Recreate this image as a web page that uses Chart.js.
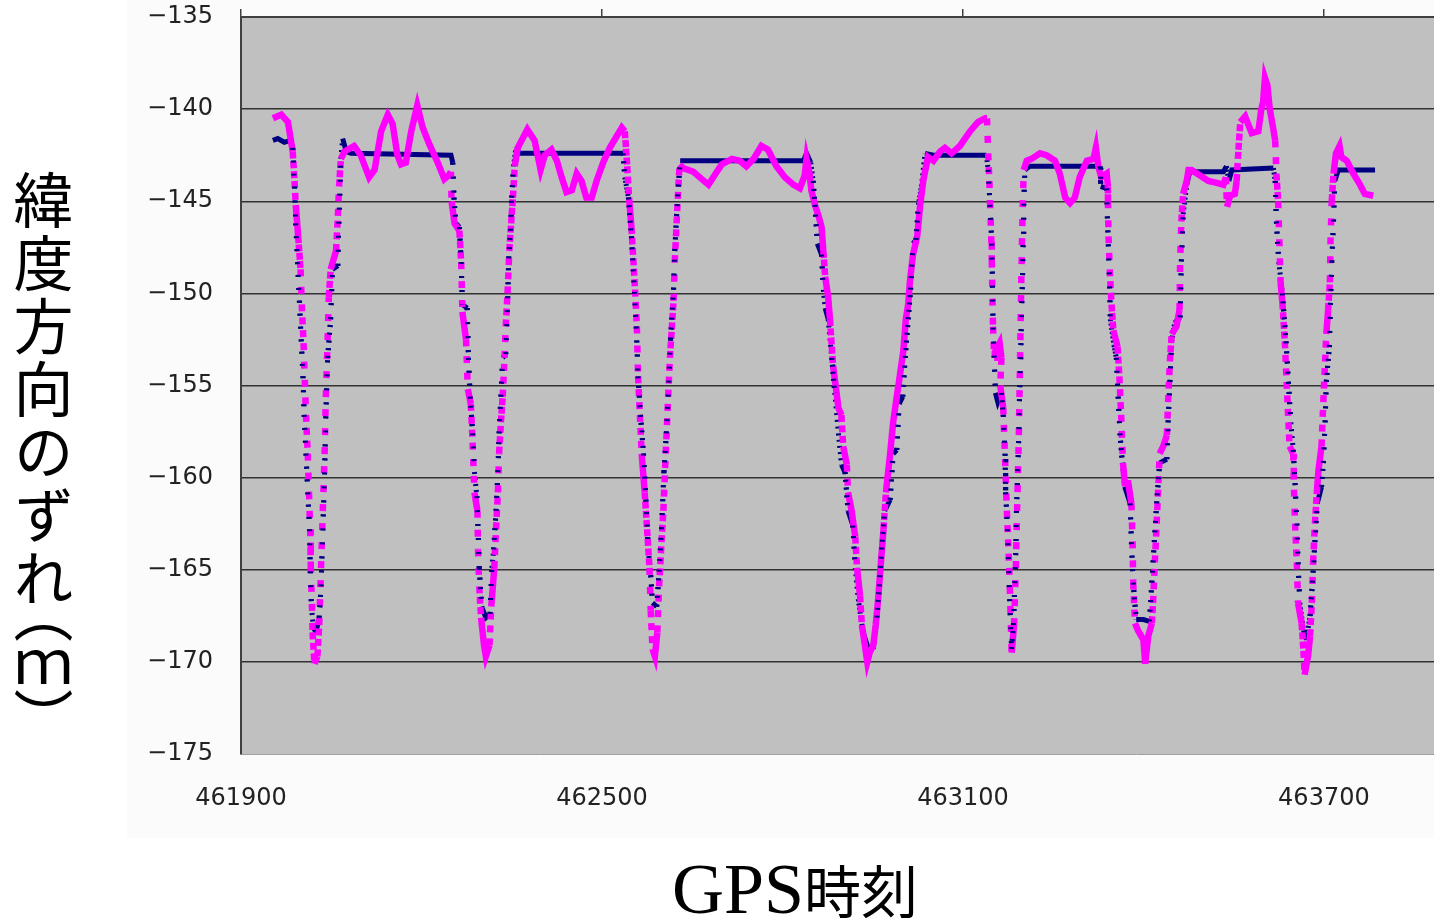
<!DOCTYPE html>
<html>
<head>
<meta charset="utf-8">
<script src="https://cdn.jsdelivr.net/npm/chart.js@4.4.1/dist/chart.umd.min.js"></script>
<style>
body { margin:0; background:#fff; }
#wrap { position:relative; width:1434px; height:918px; overflow:hidden; }
#panel { position:absolute; left:127px; top:0; width:1307px; height:838px; background:#fbfbfb; }
#c { position:absolute; left:0; top:0; }
#ytitle { position:absolute; left:13px; top:170px; writing-mode:vertical-rl; text-orientation:upright;
  font-family:"Noto Sans CJK JP"; font-size:60px; line-height:1; letter-spacing:3px; color:#000; }
#ytitle .unit { font-feature-settings:"vpal" 1; letter-spacing:0; }
#xtitle { position:absolute; left:672px; top:852px; white-space:nowrap; line-height:72px; color:#000; }
#xtitle .lat { font-family:"Liberation Serif"; font-size:72px; }
#xtitle .cjk { font-family:"Noto Sans CJK JP"; font-size:57px; }
</style>
</head>
<body>
<div id="wrap">
  <div id="panel"></div>
  <canvas id="c" width="1434" height="918"></canvas>
  <div id="ytitle">緯度方向のずれ<span class="unit">（ｍ）</span></div>
  <div id="xtitle"><span class="lat">GPS</span><span class="cjk">時刻</span></div>
</div>
<script>
// axis ticks
const xTicks = [461900, 462500, 463100, 463700];
const yTicks = [-175, -170, -165, -160, -155, -150, -145, -140, -135];

// navy series
const navyTime = [461953,461961,461972,461982,461986,461989,461991,461994,461997,462000,462003,462005,462008,462011,462014,462015,462017,462021,462026,462030,
  462033,462036,462039,462041,462044,462049,462052,462061,462062,462064,462066,462069,462075,462083,462249,462252,462254,462257,462263,462266,
  462268,462276,462278,462281,462285,462288,462292,462294,462296,462300,462307,462314,462317,462320,462324,462327,462329,462332,462335,462340,
  462343,462345,462348,462350,462353,462357,462363,462535,462538,462544,462549,462553,462557,462560,462564,462569,462573,462577,462581,462584,
  462591,462595,462599,462603,462607,462610,462614,462619,462621,462624,462627,462630,462835,462840,462847,462851,462854,462858,462865,462868,
  462871,462876,462882,462887,462893,462898,462904,462909,462917,462921,462926,462934,462943,462951,462957,462961,462965,462970,462979,462984,
  462990,462994,463000,463004,463009,463013,463017,463022,463026,463031,463037,463051,463139,463142,463145,463148,463149,463150,463152,463154,
  463158,463164,463167,463170,463171,463174,463176,463178,463181,463184,463186,463188,463189,463191,463193,463194,463196,463197,463199,463200,
  463201,463203,463211,463328,463329,463339,463340,463342,463344,463345,463351,463355,463358,463361,463365,463369,463378,463380,463383,463388,
  463400,463410,463414,463418,463422,463427,463439,463441,463444,463447,463452,463461,463463,463466,463472,463477,463533,463538,463542,463547,
  463616,463619,463621,463625,463631,463637,463641,463645,463649,463652,463655,463657,463660,463666,463671,463677,463681,463685,463689,463696,
  463699,463702,463704,463709,463711,463713,463716,463718,463724,463785];
const navyLat = [-141.7,-141.6,-141.8,-141.7,-142.1,-144.2,-146.2,-148.3,-150.4,-152.5,-154.5,-156.6,-158.7,-160.8,-162.8,-164.9,-167.0,-168.4,-168.2,-167.6,
  -165.9,-162.8,-159.7,-156.6,-153.5,-151.4,-148.7,-148.5,-146.9,-144.8,-142.7,-141.6,-142.3,-142.4,-142.5,-142.9,-144.8,-146.2,-146.4,-148.3,
  -150.6,-150.8,-153.5,-155.6,-157.6,-159.7,-161.0,-162.8,-164.9,-167.0,-167.6,-167.4,-164.9,-163.9,-161.8,-159.7,-157.6,-155.6,-153.5,-153.3,
  -150.6,-148.1,-146.6,-144.8,-143.1,-142.1,-142.4,-142.4,-143.7,-144.8,-146.9,-149.3,-151.8,-154.5,-156.6,-158.7,-161.2,-163.9,-165.3,-166.8,
  -167.0,-165.1,-162.8,-159.7,-157.6,-155.6,-152.5,-149.8,-147.7,-145.8,-144.2,-142.8,-142.8,-142.4,-142.9,-143.9,-145.2,-147.3,-147.9,-149.8,
  -150.8,-151.4,-153.5,-155.4,-157.6,-159.3,-159.7,-161.8,-162.6,-164.9,-166.6,-168.4,-169.3,-169.3,-167.6,-165.9,-163.9,-161.8,-161.2,-158.7,
  -158.5,-156.0,-155.6,-153.5,-151.4,-149.8,-147.3,-147.1,-145.2,-144.2,-142.4,-142.5,-142.5,-143.3,-145.2,-147.3,-149.3,-151.8,-153.5,-155.4,
  -155.9,-155.4,-156.6,-158.7,-160.8,-162.8,-164.9,-167.0,-169.3,-168.0,-165.9,-163.9,-161.8,-159.7,-157.6,-155.6,-153.5,-151.4,-149.3,-147.3,
  -145.2,-143.3,-143.1,-143.1,-144.2,-144.3,-145.8,-147.7,-149.8,-151.4,-152.8,-153.5,-155.6,-157.6,-159.2,-160.5,-161.4,-163.5,-165.7,-167.7,
  -167.7,-167.8,-165.7,-163.5,-161.4,-159.2,-159.0,-157.0,-154.8,-152.6,-151.6,-151.3,-148.3,-145.7,-144.1,-143.4,-143.4,-143.1,-143.9,-143.3,
  -143.2,-143.9,-146.1,-148.3,-150.0,-152.6,-154.8,-157.0,-158.5,-160.3,-162.5,-164.6,-166.8,-168.3,-168.8,-167.5,-165.7,-163.5,-161.4,-160.5,
  -159.2,-157.0,-154.8,-152.9,-150.5,-148.3,-146.1,-143.9,-143.3,-143.3];

// magenta series
const pinkTime = [461953,461967,461978,461982,461986,461989,461991,461995,461999,462001,462004,462006,462008,462011,462013,462015,462016,462018,462019,462022,
  462027,462030,462033,462036,462039,462041,462044,462046,462049,462058,462061,462063,462066,462072,462088,462099,462113,462122,462133,462144,
  462152,462160,462166,462174,462183,462193,462202,462213,462227,462238,462245,462249,462250,462255,462263,462266,462268,462274,462277,462282,
  462285,462288,462293,462294,462296,462299,462304,462307,462313,462316,462321,462324,462327,462329,462332,462335,462338,462340,462343,462346,
  462349,462352,462355,462360,462376,462388,462398,462405,462416,462425,462433,462441,462450,462458,462466,462474,462483,462491,462502,462513,
  462524,462533,462538,462542,462545,462549,462552,462555,462558,462560,462563,462566,462571,462575,462579,462581,462584,462588,462592,462595,
  462599,462602,462606,462610,462613,462619,462621,462624,462627,462629,462635,462652,462666,462677,462685,462699,462716,462729,462740,462752,
  462765,462776,462790,462804,462818,462829,462837,462840,462845,462848,462854,462860,462865,462868,462871,462876,462879,462882,462884,462890,
  462893,462898,462901,462907,462909,462915,462921,462924,462929,462932,462937,462941,462945,462951,462955,462959,462963,462968,462972,462979,
  462984,462990,462995,463001,463005,463009,463012,463017,463024,463029,463034,463040,463042,463051,463062,463070,463081,463095,463112,463125,
  463137,463140,463142,463144,463145,463147,463148,463149,463150,463152,463153,463161,463164,463162,463167,463173,463177,463181,463185,463188,
  463190,463193,463195,463197,463199,463201,463206,463214,463228,463239,463253,463261,463270,463278,463286,463294,463306,463317,463321,463325,
  463330,463339,463341,463341,463342,463344,463347,463350,463357,463360,463363,463366,463369,463375,463380,463382,463383,463386,463391,463400,
  463403,463408,463414,463416,463419,463422,463425,463427,463433,463439,463441,463444,463447,463455,463460,463461,463463,463466,463472,463475,
  463480,463494,463508,463522,463533,463537,463539,463544,463552,463555,463557,463559,463561,463569,463580,463591,463596,463599,463602,463606,
  463610,463615,463619,463621,463624,463626,463628,463631,463635,463638,463641,463643,463649,463650,463652,463655,463657,463663,463666,463668,
  463674,463677,463680,463682,463685,463688,463691,463696,463699,463702,463704,463707,463710,463711,463713,463716,463720,463726,463729,463738,
  463749,463760,463768,463782];
const pinkLat = [-140.5,-140.3,-140.7,-141.5,-142.3,-143.9,-145.2,-146.9,-148.7,-150.6,-152.7,-154.7,-156.6,-158.7,-160.8,-162.8,-164.9,-167.0,-168.4,-170.1,
  -169.7,-168.0,-164.9,-161.8,-158.7,-155.6,-152.5,-150.2,-148.7,-147.7,-145.8,-144.2,-142.7,-142.3,-142.0,-142.5,-143.7,-143.3,-141.2,-140.3,
  -140.8,-142.5,-143.0,-142.9,-141.2,-139.8,-141.0,-141.9,-142.9,-143.8,-143.6,-143.4,-145.0,-146.2,-146.6,-148.3,-151.0,-152.5,-155.2,-156.0,
  -158.1,-160.8,-161.8,-163.9,-165.9,-167.6,-169.1,-169.7,-169.1,-167.0,-164.9,-162.8,-160.8,-158.7,-157.0,-155.6,-153.5,-151.8,-150.0,-147.7,
  -146.2,-144.8,-143.1,-142.1,-141.1,-141.7,-143.3,-142.5,-142.2,-142.8,-143.7,-144.5,-144.4,-143.5,-143.9,-144.8,-144.8,-143.9,-142.9,-142.1,
  -141.5,-141.0,-141.2,-143.1,-144.8,-146.4,-148.1,-149.8,-151.8,-154.5,-156.6,-158.7,-160.8,-162.8,-164.9,-167.2,-169.3,-169.7,-168.4,-165.9,
  -163.5,-161.8,-158.7,-155.6,-153.5,-150.4,-148.3,-146.2,-144.2,-143.0,-143.2,-143.4,-143.8,-144.1,-143.7,-143.0,-142.7,-142.8,-143.1,-142.7,
  -142.0,-142.2,-143.1,-143.7,-144.1,-144.3,-143.6,-142.7,-143.5,-144.4,-145.2,-145.8,-146.4,-147.7,-149.1,-150.2,-151.4,-152.9,-153.9,-155.4,
  -156.2,-156.6,-158.3,-159.3,-160.8,-161.8,-163.2,-164.9,-166.4,-168.0,-169.1,-170.0,-169.5,-169.1,-168.0,-166.6,-164.9,-162.8,-160.8,-158.7,
  -157.0,-155.6,-154.5,-153.1,-151.4,-150.6,-149.3,-147.9,-146.9,-145.2,-143.9,-142.9,-142.6,-142.8,-142.3,-142.1,-142.4,-142.0,-141.2,-140.7,
  -140.5,-140.5,-142.4,-143.9,-145.0,-146.9,-148.3,-150.2,-151.8,-153.5,-153.2,-152.7,-153.5,-155.0,-156.2,-161.8,-164.9,-169.5,-168.0,-164.9,
  -161.8,-157.6,-153.5,-149.3,-145.8,-143.3,-142.8,-142.7,-142.4,-142.5,-142.8,-143.5,-144.8,-145.1,-144.8,-143.7,-142.8,-142.7,-142.1,-143.1,
  -143.7,-143.5,-144.2,-145.0,-146.9,-148.7,-150.6,-152.0,-152.9,-154.5,-156.6,-159.2,-160.3,-160.3,-161.4,-163.5,-165.7,-167.9,-168.3,-168.8,
  -170.1,-168.6,-167.9,-166.8,-164.6,-162.5,-160.3,-158.7,-158.3,-157.7,-155.9,-153.7,-152.2,-151.8,-150.9,-148.3,-146.1,-144.6,-143.9,-143.3,
  -143.3,-143.6,-143.9,-144.0,-144.1,-143.7,-145.3,-144.7,-144.6,-143.9,-142.7,-141.7,-140.7,-140.4,-141.3,-141.2,-140.0,-139.6,-138.3,-138.7,
  -140.0,-140.9,-141.7,-143.5,-145.0,-147.2,-149.4,-150.5,-152.6,-154.8,-157.0,-158.3,-158.7,-160.3,-162.5,-164.6,-166.8,-167.9,-169.4,-170.7,
  -169.6,-168.6,-166.8,-164.6,-162.5,-160.9,-159.6,-158.3,-155.9,-153.7,-152.2,-150.9,-149.4,-147.2,-145.0,-143.5,-142.4,-142.0,-142.6,-142.8,
  -143.5,-144.1,-144.6,-144.7];

const xMin = 461900, xMax = 463883;
const tickFont = { family: 'DejaVu Sans', size: 24 };

function toPoints(times, lats) {
  return times.map((t, i) => ({ x: t, y: lats[i] }));
}

// pixels per second of a segment; fast vertical moves look like separate markers in the original
function speedOf(ctx, times) {
  const dt = Math.abs(times[ctx.p1DataIndex] - times[ctx.p0DataIndex]) || 1;
  return Math.abs(ctx.p1.y - ctx.p0.y) / dt;
}

function dashFor(times, mark) {
  return ctx => {
    const s = speedOf(ctx, times);
    if (s < mark + 1) return undefined;
    return [mark, Math.min(12, s - mark)];
  };
}

function setTicks(list) {
  return scale => { scale.ticks = list.map(v => ({ value: v })); };
}

const plotBg = {
  id: 'plotBg',
  beforeDraw(chart) {
    const a = chart.chartArea, c = chart.ctx;
    c.save();
    c.fillStyle = '#c0c0c0';
    c.fillRect(a.left, a.top, a.right - a.left, a.bottom - a.top);
    c.restore();
  }
};

new Chart(document.getElementById('c'), {
  type: 'line',
  data: {
    datasets: [{
      // navy marks on top of the magenta where the curve drops fast
      label: '系列1',
      data: toPoints(navyTime, navyLat),
      borderColor: '#000080',
      borderWidth: 5,
      pointRadius: 0,
      segment: {
        borderColor: ctx => speedOf(ctx, navyTime) < 7 ? 'rgba(0,0,0,0)' : '#000080',
        borderDash: ctx => [2, Math.min(12, Math.max(4, speedOf(ctx, navyTime) - 2))]
      }
    }, {
      label: '系列2',
      data: toPoints(pinkTime, pinkLat),
      borderColor: '#ff00ff',
      borderWidth: 6.5,
      pointRadius: 0,
      segment: { borderDash: dashFor(pinkTime, 7) }
    }, {
      label: '系列1',
      data: toPoints(navyTime, navyLat),
      borderColor: '#000080',
      borderWidth: 5,
      pointRadius: 0,
      segment: { borderDash: dashFor(navyTime, 2) }
    }]
  },
  options: {
    responsive: false,
    animation: false,
    parsing: false,
    layout: { padding: { top: 9, right: 0, bottom: 0, left: 0 } },
    plugins: { legend: { display: false }, tooltip: { enabled: false } },
    scales: {
      x: {
        type: 'linear', position: 'bottom', min: xMin, max: xMax,
        afterBuildTicks: setTicks(xTicks),
        afterFit: s => { s.height = 164; },
        grid: { drawOnChartArea: false, drawTicks: false },
        border: { color: '#a0a0a0', width: 1 },
        ticks: { font: tickFont, color: '#222', padding: 30, maxRotation: 0, autoSkip: false,
          callback: v => String(v) }
      },
      x2: {
        type: 'linear', position: 'top', min: xMin, max: xMax,
        afterBuildTicks: setTicks(xTicks),
        afterFit: s => { s.height = 8; },
        grid: { drawOnChartArea: false, drawTicks: true, tickLength: 8, color: '#404040', lineWidth: 1.5 },
        border: { color: '#404040', width: 2 },
        ticks: { display: false }
      },
      y: {
        min: -175, max: -135,
        afterBuildTicks: setTicks(yTicks),
        afterFit: s => { s.width = 241; s.paddingTop = 0; s.paddingBottom = 0; },
        grid: {
          drawTicks: false, lineWidth: 1.5,
          color: ctx => (ctx.tick && ctx.tick.value === -175) ? 'rgba(0,0,0,0)' : '#333'
        },
        border: { color: '#404040', width: 2 },
        ticks: {
          font: tickFont, color: '#222', padding: 28,
          callback: v => (v < 0 ? '\u2212' + Math.abs(v) : String(v))
        }
      }
    }
  },
  plugins: [plotBg]
});
</script>
</body>
</html>
